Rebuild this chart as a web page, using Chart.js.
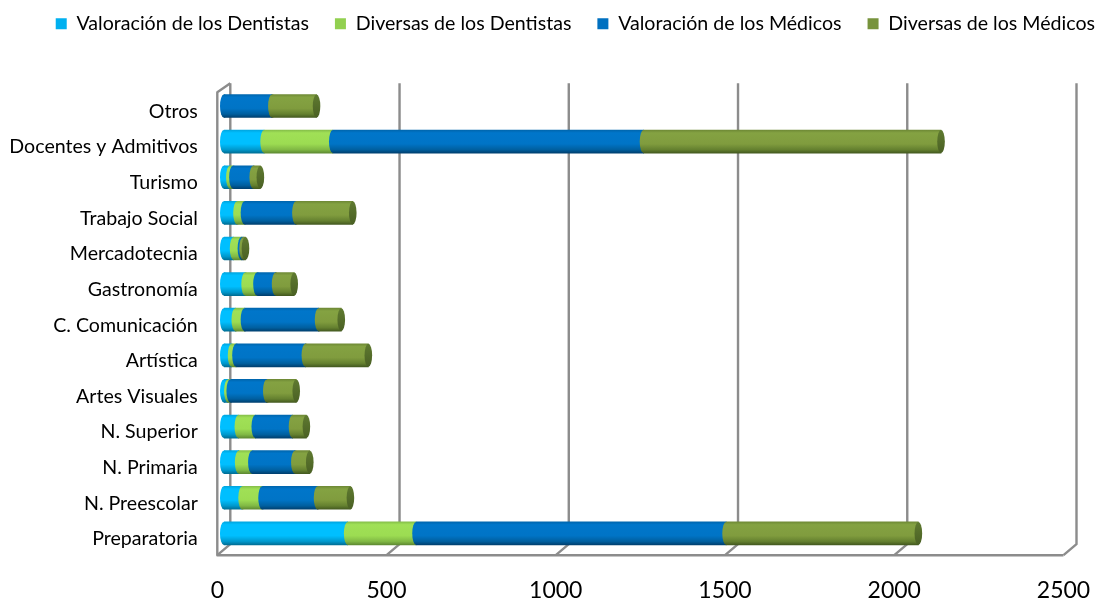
<!DOCTYPE html>
<html><head><meta charset="utf-8">
<style>html,body{margin:0;padding:0;background:#fff}#w{width:1098px;height:599px;position:relative}</style>
<script src="https://cdn.jsdelivr.net/npm/chart.js@4"></script>
</head><body><div id="w"><canvas id="c"></canvas></div>
<script>
const categories = ["Otros","Docentes y Admitivos","Turismo","Trabajo Social","Mercadotecnia","Gastronomía","C. Comunicación","Artística","Artes Visuales","N. Superior","N. Primaria","N. Preescolar","Preparatoria"];
const valoracionDentistas = [0,119,18,39,29,63,34,23,12,43,44,54,366];
const diversasDentistas   = [0,203,9,22,23,35,27,13,7,50,39,59,202];
const valoracionMedicos   = [142,918,60,152,5,55,219,205,108,110,127,164,916];
const diversasMedicos     = [132,879,21,168,7,55,67,186,87,41,44,97,568];
const seriesNames = ["Valoración de los Dentistas","Diversas de los Dentistas","Valoración de los Médicos","Diversas de los Médicos"];
const legendColors = ["#00B0F0","#92D050","#0070C0","#77933C"];
const shades = [
  ["#00a6e0","#00bfff","#00bfff","#0098cc","#006f96"],
  ["#86c04a","#a0e056","#9cdc52","#80b844","#5e8a32"],
  ["#0066ae","#0076ca","#0074c6","#005f9f","#004070"],
  ["#6f8a36","#84a242","#809c3e","#64802f","#445a20"]
];
const FONT = "Lato, Carlito, sans-serif";
const BAR_H = 23, CAP_RX = 3.8, DX = 6.5;

function barGrad(c, y, s){
  const g = c.createLinearGradient(0, y - BAR_H/2, 0, y + BAR_H/2);
  [0,.12,.6,.85,1].forEach((p,i)=>g.addColorStop(p, s[i]));
  return g;
}
const frame = {
  id:'frame',
  beforeDatasetsDraw(ch){
    const c = ch.ctx, a = ch.chartArea, x = ch.scales.x;
    const top = a.top - 5, backB = a.bottom - 7, frontB = a.bottom + 4, frontT = a.top + 4;
    c.save();
    c.strokeStyle = '#8c8c8c'; c.lineWidth = 2.4; c.lineJoin='round';
    x.ticks.forEach(t=>{
      const p = x.getPixelForValue(t.value);
      c.beginPath(); c.moveTo(p+DX, top); c.lineTo(p+DX, backB); c.lineTo(p-DX, frontB); c.stroke();
    });
    const p0 = x.getPixelForValue(x.min), p1 = x.getPixelForValue(x.max);
    c.beginPath(); c.moveTo(p0+DX, top); c.lineTo(p0-DX, frontT); c.lineTo(p0-DX, frontB); c.lineTo(p1-DX, frontB); c.stroke();
    c.restore();
  },
  afterDatasetsDraw(ch){
    const c = ch.ctx;
    c.save();
    ch.data.datasets.forEach((d,i)=>{
      ch.getDatasetMeta(i).data.forEach(b=>{
        const w = b.x - b.base;
        if (Math.abs(w) < 0.01) return;
        c.fillStyle = barGrad(c, b.y, shades[i]);
        c.beginPath();
        c.ellipse(b.base, b.y, CAP_RX, BAR_H/2, 0, Math.PI/2, Math.PI*1.5);
        c.lineTo(b.base + Math.min(1.5, w), b.y - BAR_H/2);
        c.lineTo(b.base + Math.min(1.5, w), b.y + BAR_H/2);
        c.closePath(); c.fill();
      });
    });
    const last = ch.data.datasets.length - 1;
    ch.getDatasetMeta(last).data.forEach(b=>{
      const g = c.createLinearGradient(0,b.y-BAR_H/2,0,b.y+BAR_H/2);
      g.addColorStop(0,'#5f7a30'); g.addColorStop(1,'#4a6024');
      c.fillStyle = g;
      c.beginPath();
      c.ellipse(b.x, b.y, CAP_RX, BAR_H/2, 0, 0, Math.PI*2);
      c.fill();
    });
    c.restore();
  }
};
const seriesData = [valoracionDentistas,diversasDentistas,valoracionMedicos,diversasMedicos];
new Chart(document.getElementById('c'),{
  type:'bar',
  plugins:[frame],
  data:{labels:categories,datasets:seriesNames.map((n,i)=>({
    label:n,data:seriesData[i],
    borderWidth:0,
    barThickness:BAR_H,
    backgroundColor(ctx){
      if(ctx.type!=='data') return legendColors[i];
      return barGrad(ctx.chart.ctx, ctx.chart.scales.y.getPixelForValue(ctx.dataIndex), shades[i]);
    }
  }))},
  options:{
    indexAxis:'y',responsive:true,maintainAspectRatio:false,animation:false,
    layout:{padding:{top:-12,right:-23,left:0,bottom:0}},
    plugins:{
      tooltip:{enabled:false},
      legend:{position:'top',align:'end',
        labels:{boxWidth:11,boxHeight:11,padding:26,color:'#000',font:{family:FONT,size:19.6},
          generateLabels(ch){return ch.data.datasets.map((d,i)=>({text:d.label,fillStyle:legendColors[i],strokeStyle:legendColors[i],lineWidth:0,datasetIndex:i,fontColor:'#000'}));}
        }
      }
    },
    scales:{
      x:{stacked:true,min:0,max:2500,position:'bottom',
        grid:{display:false},border:{display:false},
        ticks:{stepSize:500,color:'#000',font:{family:FONT,size:23},labelOffset:-DX,padding:18,maxRotation:0,callback:v=>String(v)},
        afterFit(s){s.height=599-551.2;s.paddingRight=0;s.paddingLeft=0;}
      },
      y:{stacked:true,position:'left',
        grid:{display:false},border:{display:false},
        ticks:{color:'#000',font:{family:FONT,size:19.6},padding:18,labelOffset:5.5,autoSkip:false},
        afterFit(s){s.width=223.8;s.paddingTop=0;s.paddingBottom=0;}
      },
      r:{position:'right',display:true,grid:{display:false},border:{display:false},ticks:{display:false},
        afterFit(s){s.width=51;s.paddingTop=0;s.paddingBottom=0;}
      },
      t:{position:'top',display:true,grid:{display:false},border:{display:false},ticks:{display:false},
        afterFit(s){s.height=88.2+12-(s.chart.legend?s.chart.legend.height:0);s.paddingRight=0;s.paddingLeft=0;}
      }
    }
  }
});
</script></body></html>
